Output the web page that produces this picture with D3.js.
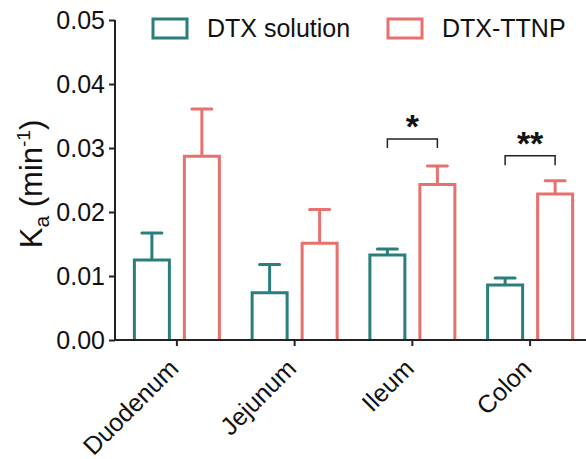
<!DOCTYPE html>
<html>
<head>
<meta charset="utf-8">
<script src="https://cdn.jsdelivr.net/npm/d3@7"></script>
<style>
body { margin: 0; background: #fff; }
text { font-family: Arial, "Liberation Sans", sans-serif; fill: #111; }
</style>
</head>
<body>
<div id="chart"></div>
<script>
// data
var categories = ["Duodenum", "Jejunum", "Ileum", "Colon"];
var series = ["DTX solution", "DTX-TTNP"];
var solution = [0.0125, 0.0074, 0.0133, 0.0086];
var solutionErr = [0.0042, 0.0044, 0.0009, 0.0011];
var ttnp = [0.0287, 0.0151, 0.0243, 0.0228];
var ttnpErr = [0.0074, 0.0053, 0.0029, 0.0021];
var yTicks = [0, 0.01, 0.02, 0.03, 0.04, 0.05];
// significance marks: category, bracket top, leg bottom, label
var sig = [
  {cat: "Ileum", top: 0.0314, bottom: 0.0300, label: "*"},
  {cat: "Colon", top: 0.0288, bottom: 0.0273, label: "**"}
];

var colors = ["#2a7f7c", "#e8706f"];
var w = 586, h = 459;

var svg = d3.select("#chart").append("svg")
  .attr("width", w).attr("height", h);

var x = d3.scaleBand().domain(categories).range([118, 589]);
var y = d3.scaleLinear().domain([0, 0.05]).range([340, 20]);

var barW = 35, off = 25;

var rows = [];
categories.forEach(function(c, i) {
  rows.push({cat: c, s: 0, v: solution[i], e: solutionErr[i]});
  rows.push({cat: c, s: 1, v: ttnp[i], e: ttnpErr[i]});
});
function cx(d) { return x(d.cat) + x.bandwidth() / 2 + (d.s == 0 ? -off : off); }

// error bars (drawn first, bar covers the base)
var eb = svg.append("g");
eb.selectAll("line.stem").data(rows).enter().append("line")
  .attr("x1", cx).attr("x2", cx)
  .attr("y1", d => y(d.v)).attr("y2", d => y(d.v + d.e))
  .attr("stroke", d => colors[d.s]).attr("stroke-width", 3);
eb.selectAll("line.cap").data(rows).enter().append("line")
  .attr("x1", d => cx(d) - 10).attr("x2", d => cx(d) + 10)
  .attr("y1", d => y(d.v + d.e)).attr("y2", d => y(d.v + d.e))
  .attr("stroke", d => colors[d.s]).attr("stroke-width", 3)
  .attr("stroke-linecap", "round");

// bars: open boxes, no bottom edge
svg.append("g").selectAll("path").data(rows).enter().append("path")
  .attr("d", function(d) {
    var l = cx(d) - barW / 2, r = cx(d) + barW / 2;
    return "M" + l + "," + y(0) + "V" + y(d.v) + "H" + r + "V" + y(0);
  })
  .attr("fill", "#fff")
  .attr("stroke", d => colors[d.s]).attr("stroke-width", 3);

// axes
var yAxis = svg.append("g").attr("transform", "translate(115,0)")
  .call(d3.axisLeft(y).tickValues(yTicks).tickFormat(d3.format(".2f")).tickSize(6).tickPadding(4));
yAxis.select(".domain").attr("stroke", "#222").attr("stroke-width", 2).attr("d", "M0," + y(0) + "V" + y(0.05));
yAxis.selectAll(".tick line").attr("stroke", "#222").attr("stroke-width", 2);
yAxis.selectAll("text").attr("font-size", 25).attr("font-family", "Arial, 'Liberation Sans', sans-serif").attr("fill", "#111");

var xAxis = svg.append("g").attr("transform", "translate(0," + y(0) + ")")
  .call(d3.axisBottom(x).tickSize(6).tickFormat(""));
xAxis.select(".domain").attr("stroke", "#222").attr("stroke-width", 2).attr("d", "M115,0H586");
xAxis.selectAll(".tick line").attr("stroke", "#222").attr("stroke-width", 2);

svg.append("g").selectAll("text").data(categories).enter().append("text")
  .attr("transform", d => "translate(" + (x(d) + x.bandwidth() / 2 + 3) + ",370) rotate(-45)")
  .attr("text-anchor", "end")
  .attr("font-size", 25)
  .text(d => d);

// y label
var yl = svg.append("text")
  .attr("transform", "translate(42,184) rotate(-90)")
  .attr("text-anchor", "middle")
  .attr("font-size", 31);
yl.append("tspan").text("K");
yl.append("tspan").attr("font-size", 21).attr("dy", 7).text("a");
yl.append("tspan").attr("dy", -7).text(" (min");
yl.append("tspan").attr("font-size", 19).attr("dy", -12).text("-1");
yl.append("tspan").attr("dy", 12).text(")");

// significance brackets
sig.forEach(function(s) {
  var x1 = x(s.cat) + x.bandwidth() / 2 - off, x2 = x(s.cat) + x.bandwidth() / 2 + off;
  svg.append("path")
    .attr("d", "M" + x1 + "," + y(s.bottom) + "V" + y(s.top) + "H" + x2 + "V" + y(s.bottom))
    .attr("fill", "none").attr("stroke", "#222").attr("stroke-width", 1.5);
  svg.append("text")
    .attr("x", (x1 + x2) / 2).attr("y", y(s.top) - 1)
    .attr("text-anchor", "middle").attr("font-size", 34).attr("font-weight", "bold")
    .text(s.label);
});

// legend
var lx = [153, 388];
var lg = svg.append("g").selectAll("g").data(series).enter().append("g")
  .attr("transform", (d, i) => "translate(" + lx[i] + ",19)");
lg.append("rect").attr("width", 34).attr("height", 19)
  .attr("fill", "#fff").attr("stroke", (d, i) => colors[i]).attr("stroke-width", 3);
lg.append("text").attr("x", 54).attr("y", 18).attr("font-size", 25).text(d => d);
</script>
</body>
</html>
